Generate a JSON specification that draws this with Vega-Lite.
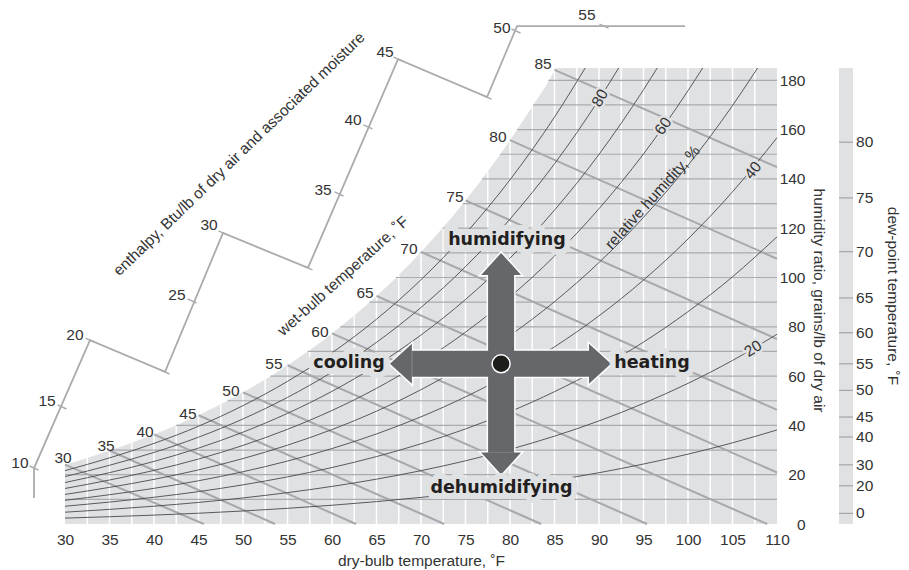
{
"$schema": "https://vega.github.io/schema/vega-lite/v6.json",
"width": 712, "height": 456,
"autosize": {"type": "none"},
"padding": {"left": 65, "top": 68, "right": 132, "bottom": 46},
"background": "white",
"config": {"view": {"stroke": null}, "axis": {"labelFont": "Liberation Sans", "titleFont": "Liberation Sans"}},
"datasets": {
"sat": [{"T":30,"W":24.07},{"T":32.5,"W":26.8},{"T":35,"W":29.82},{"T":37.5,"W":32.93},{"T":40,"W":36.37},{"T":42.5,"W":40.06},{"T":45,"W":44.12},{"T":47.5,"W":48.54},{"T":50,"W":53.42},{"T":52.5,"W":58.65},{"T":55,"W":64.41},{"T":57.5,"W":70.56},{"T":60,"W":77.32},{"T":62.5,"W":84.57},{"T":65,"W":92.52},{"T":67.5,"W":101.04},{"T":70,"W":110.37},{"T":72.5,"W":120.36},{"T":75,"W":131.29},{"T":77.5,"W":142.96},{"T":80,"W":155.72},{"T":82.5,"W":169.35},{"T":85,"W":184.22},{"T":85.1,"W":185},{"T":110,"W":185}],
"vgrid": [{"T":32.5,"W":26.8},{"T":35,"W":29.82},{"T":37.5,"W":32.93},{"T":40,"W":36.37},{"T":42.5,"W":40.06},{"T":45,"W":44.12},{"T":47.5,"W":48.54},{"T":50,"W":53.42},{"T":52.5,"W":58.65},{"T":55,"W":64.41},{"T":57.5,"W":70.56},{"T":60,"W":77.32},{"T":62.5,"W":84.57},{"T":65,"W":92.52},{"T":67.5,"W":101.04},{"T":70,"W":110.37},{"T":72.5,"W":120.36},{"T":75,"W":131.29},{"T":77.5,"W":142.96},{"T":80,"W":155.72},{"T":82.5,"W":169.35},{"T":85,"W":184.22},{"T":87.5,"W":185},{"T":90,"W":185},{"T":92.5,"W":185},{"T":95,"W":185},{"T":97.5,"W":185},{"T":100,"W":185},{"T":102.5,"W":185},{"T":105,"W":185},{"T":107.5,"W":185}],
"hgrid": [{"W":10,"T":30},{"W":20,"T":30},{"W":30,"T":35.14},{"W":40,"T":42.46},{"W":50,"T":48.25},{"W":60,"T":53.09},{"W":70,"T":57.27},{"W":80,"T":60.92},{"W":90,"T":64.21},{"W":100,"T":67.19},{"W":110,"T":69.9},{"W":120,"T":72.41},{"W":130,"T":74.7},{"W":140,"T":76.87},{"W":150,"T":78.88},{"W":160,"T":80.79},{"W":170,"T":82.61},{"W":180,"T":84.29}],
"wb": [{"wb":30,"T":30,"W":24.07},{"wb":30,"T":45.6,"W":0},{"wb":35,"T":35,"W":29.82},{"wb":35,"T":53.6,"W":0},{"wb":40,"T":40,"W":36.37},{"wb":40,"T":62.7,"W":0},{"wb":45,"T":45,"W":44.12},{"wb":45,"T":72.6,"W":0},{"wb":50,"T":50,"W":53.42},{"wb":50,"T":83.5,"W":0},{"wb":55,"T":55,"W":64.41},{"wb":55,"T":95.4,"W":0},{"wb":60,"T":60,"W":77.32},{"wb":60,"T":108.9,"W":0},{"wb":65,"T":65,"W":92.52},{"wb":65,"T":110,"W":20.9},{"wb":70,"T":70,"W":110.37},{"wb":70,"T":110,"W":46.3},{"wb":75,"T":75,"W":131.29},{"wb":75,"T":110,"W":75.0},{"wb":80,"T":80,"W":155.72},{"wb":80,"T":110,"W":107.6},{"wb":85,"T":85,"W":184.22},{"wb":85,"T":110,"W":144.8}],
"rh": [
{"rh":10,"T":30,"W":2.4},{"rh":10,"T":35,"W":2.96},{"rh":10,"T":40,"W":3.61},{"rh":10,"T":45,"W":4.37},{"rh":10,"T":50,"W":5.28},{"rh":10,"T":55,"W":6.36},{"rh":10,"T":60,"W":7.61},{"rh":10,"T":65,"W":9.08},{"rh":10,"T":70,"W":10.79},{"rh":10,"T":75,"W":12.78},{"rh":10,"T":80,"W":15.09},{"rh":10,"T":85,"W":17.75},{"rh":10,"T":90,"W":20.81},{"rh":10,"T":95,"W":24.33},{"rh":10,"T":100,"W":28.34},{"rh":10,"T":105,"W":32.93},{"rh":10,"T":110,"W":38.16},
{"rh":20,"T":30,"W":4.79},{"rh":20,"T":35,"W":5.93},{"rh":20,"T":40,"W":7.23},{"rh":20,"T":45,"W":8.75},{"rh":20,"T":50,"W":10.58},{"rh":20,"T":55,"W":12.73},{"rh":20,"T":60,"W":15.25},{"rh":20,"T":65,"W":18.19},{"rh":20,"T":70,"W":21.64},{"rh":20,"T":75,"W":25.64},{"rh":20,"T":80,"W":30.28},{"rh":20,"T":85,"W":35.64},{"rh":20,"T":90,"W":41.82},{"rh":20,"T":95,"W":48.92},{"rh":20,"T":100,"W":57.06},{"rh":20,"T":105,"W":66.35},{"rh":20,"T":110,"W":76.99},
{"rh":30,"T":30,"W":7.19},{"rh":30,"T":35,"W":8.9},{"rh":30,"T":40,"W":10.85},{"rh":30,"T":45,"W":13.14},{"rh":30,"T":50,"W":15.89},{"rh":30,"T":55,"W":19.12},{"rh":30,"T":60,"W":22.91},{"rh":30,"T":65,"W":27.35},{"rh":30,"T":70,"W":32.54},{"rh":30,"T":75,"W":38.57},{"rh":30,"T":80,"W":45.57},{"rh":30,"T":85,"W":53.68},{"rh":30,"T":90,"W":63.03},{"rh":30,"T":95,"W":73.8},{"rh":30,"T":100,"W":86.15},{"rh":30,"T":105,"W":100.29},{"rh":30,"T":110,"W":116.51},
{"rh":40,"T":30,"W":9.6},{"rh":40,"T":35,"W":11.88},{"rh":40,"T":40,"W":14.47},{"rh":40,"T":45,"W":17.54},{"rh":40,"T":50,"W":21.21},{"rh":40,"T":55,"W":25.54},{"rh":40,"T":60,"W":30.6},{"rh":40,"T":65,"W":36.54},{"rh":40,"T":70,"W":43.49},{"rh":40,"T":75,"W":51.58},{"rh":40,"T":80,"W":60.98},{"rh":40,"T":85,"W":71.87},{"rh":40,"T":90,"W":84.45},{"rh":40,"T":95,"W":98.96},{"rh":40,"T":100,"W":115.63},{"rh":40,"T":105,"W":134.76},{"rh":40,"T":110,"W":156.74},
{"rh":50,"T":30,"W":12.0},{"rh":50,"T":35,"W":14.86},{"rh":50,"T":40,"W":18.11},{"rh":50,"T":45,"W":21.95},{"rh":50,"T":50,"W":26.55},{"rh":50,"T":55,"W":31.97},{"rh":50,"T":60,"W":38.32},{"rh":50,"T":65,"W":45.77},{"rh":50,"T":70,"W":54.5},{"rh":50,"T":75,"W":64.67},{"rh":50,"T":80,"W":76.49},{"rh":50,"T":85,"W":90.2},{"rh":50,"T":90,"W":106.08},{"rh":50,"T":95,"W":124.4},{"rh":50,"T":100,"W":145.51},{"rh":50,"T":105,"W":169.76},{"rh":50,"T":107.82,"W":185},
{"rh":60,"T":30,"W":14.41},{"rh":60,"T":35,"W":17.84},{"rh":60,"T":40,"W":21.75},{"rh":60,"T":45,"W":26.36},{"rh":60,"T":50,"W":31.89},{"rh":60,"T":55,"W":38.42},{"rh":60,"T":60,"W":46.06},{"rh":60,"T":65,"W":55.04},{"rh":60,"T":70,"W":65.56},{"rh":60,"T":75,"W":77.83},{"rh":60,"T":80,"W":92.11},{"rh":60,"T":85,"W":108.7},{"rh":60,"T":90,"W":127.91},{"rh":60,"T":95,"W":150.14},{"rh":60,"T":100,"W":175.79},{"rh":60,"T":101.65,"W":185},
{"rh":70,"T":30,"W":16.82},{"rh":70,"T":35,"W":20.83},{"rh":70,"T":40,"W":25.39},{"rh":70,"T":45,"W":30.79},{"rh":70,"T":50,"W":37.26},{"rh":70,"T":55,"W":44.89},{"rh":70,"T":60,"W":53.83},{"rh":70,"T":65,"W":64.35},{"rh":70,"T":70,"W":76.68},{"rh":70,"T":75,"W":91.08},{"rh":70,"T":80,"W":107.85},{"rh":70,"T":85,"W":127.34},{"rh":70,"T":90,"W":149.96},{"rh":70,"T":95,"W":176.18},{"rh":70,"T":96.54,"W":185},
{"rh":80,"T":30,"W":19.24},{"rh":80,"T":35,"W":23.83},{"rh":80,"T":40,"W":29.04},{"rh":80,"T":45,"W":35.22},{"rh":80,"T":50,"W":42.63},{"rh":80,"T":55,"W":51.37},{"rh":80,"T":60,"W":61.63},{"rh":80,"T":65,"W":73.7},{"rh":80,"T":70,"W":87.85},{"rh":80,"T":75,"W":104.4},{"rh":80,"T":80,"W":123.69},{"rh":80,"T":85,"W":146.14},{"rh":80,"T":90,"W":172.24},{"rh":80,"T":92.21,"W":185},
{"rh":90,"T":30,"W":21.65},{"rh":90,"T":35,"W":26.82},{"rh":90,"T":40,"W":32.7},{"rh":90,"T":45,"W":39.67},{"rh":90,"T":50,"W":48.02},{"rh":90,"T":55,"W":57.88},{"rh":90,"T":60,"W":69.46},{"rh":90,"T":65,"W":83.09},{"rh":90,"T":70,"W":99.09},{"rh":90,"T":75,"W":117.8},{"rh":90,"T":80,"W":139.65},{"rh":90,"T":85,"W":165.1},{"rh":90,"T":88.45,"W":185}
],
"enth": [{"i":0,"T":26.52,"W":10.55},{"i":1,"T":26.52,"W":22.7},{"i":2,"T":32.81,"W":74.6},{"i":3,"T":41.24,"W":61.7},{"i":4,"T":47.75,"W":118.1},{"i":5,"T":57.3,"W":103.9},{"i":6,"T":67.42,"W":188.6},{"i":7,"T":77.42,"W":173.2},{"i":8,"T":80.79,"W":202.0},{"i":9,"T":99.66,"W":202.0}],
"enthTicks": [{"T":26.52,"W":22.7},{"T":29.66,"W":47.5},{"T":32.81,"W":74.6},{"T":41.24,"W":61.7},{"T":44.27,"W":90.5},{"T":47.75,"W":118.1},{"T":57.3,"W":103.9},{"T":60.79,"W":133.9},{"T":64.04,"W":161.1},{"T":67.42,"W":188.6},{"T":77.42,"W":173.2},{"T":80.67,"W":200.0},{"T":90.56,"W":202.0}],
"enthLabels": [{"label":"10","T":24.94,"W":24.7},{"label":"15","T":27.98,"W":49.9},{"label":"20","T":31.12,"W":76.7},{"label":"25","T":42.58,"W":92.9},{"label":"30","T":46.18,"W":121.3},{"label":"35","T":58.99,"W":135.5},{"label":"40","T":62.36,"W":163.9},{"label":"45","T":65.96,"W":191.5},{"label":"50","T":79.1,"W":201.2},{"label":"55","T":88.65,"W":206.5}],
"wbLabels": [{"label":"30","T":29.78,"W":26.8},{"label":"35","T":34.61,"W":31.6},{"label":"40","T":38.99,"W":37.3},{"label":"45","T":43.82,"W":44.6},{"label":"50","T":48.65,"W":54.0},{"label":"55","T":53.48,"W":64.9},{"label":"60","T":58.65,"W":77.9},{"label":"65","T":63.71,"W":93.7},{"label":"70","T":68.65,"W":111.6},{"label":"75","T":73.82,"W":132.7},{"label":"80","T":78.65,"W":157.0},{"label":"85","T":83.71,"W":186.6}],
"shafts": [{"T":69.0,"W":65,"T2":88.9,"W2":65},{"T":79,"W":28.9,"T2":79,"W2":101.1}],
"heads": [{"dir":"left","T":67.74,"W":65},{"dir":"right","T":90.11,"W":65},{"dir":"up","T":79,"W":105.5},{"dir":"down","T":79,"W":24.5}],
"dew": [{"dp":"80","W":154.9},{"dp":"75","W":132.3},{"dp":"70","W":110.5},{"dp":"65","W":91.7},{"dp":"60","W":77.6},{"dp":"55","W":65.0},{"dp":"50","W":54.2},{"dp":"45","W":43.4},{"dp":"40","W":35.3},{"dp":"30","W":24.0},{"dp":"20","W":15.5},{"dp":"0","W":4.3}]
},
"layer": [
{
"encoding": {
"x": {"field": "T", "type": "quantitative", "scale": {"domain": [30, 110], "nice": false, "zero": false},
  "axis": {"values": [30,35,40,45,50,55,60,65,70,75,80,85,90,95,100,105,110], "ticks": false, "domain": false, "grid": false, "labelFontSize": 15.5, "labelColor": "#333333", "labelPadding": 8, "labelFlush": false, "labelOverlap": false, "title": "dry-bulb temperature, ˚F", "titleFontSize": 15.5, "titleFontWeight": "normal", "titleColor": "#333333", "titleX": 356, "titleY": 41, "titleBaseline": "alphabetic", "titleAlign": "center"}},
"y": {"field": "W", "type": "quantitative", "scale": {"domain": [0, 185], "nice": false, "zero": false},
  "axis": {"orient": "right", "values": [0,20,40,60,80,100,120,140,160,180], "ticks": false, "domain": false, "grid": false, "labelFontSize": 15.5, "labelColor": "#333333", "labelPadding": 28, "labelAlign": "right", "labelBaseline": "middle", "labelFlush": false, "labelOverlap": false, "title": "humidity ratio, grains/lb of dry air", "titleFontSize": 15.5, "titleFontWeight": "normal", "titleColor": "#333333", "titleAngle": 90, "titleX": 41, "titleY": 232, "titleAlign": "center", "titleBaseline": "middle"}}
},
"layer": [
{"data": {"name": "sat"}, "mark": {"type": "area", "fill": "#e0e1e3", "interpolate": "monotone"}, "encoding": {"y2": {"datum": 0}}},
{"data": {"name": "vgrid"}, "mark": {"type": "rule", "stroke": "#ffffff", "strokeWidth": 1.5}, "encoding": {"y2": {"datum": 0}}},
{"data": {"name": "hgrid"}, "mark": {"type": "rule", "stroke": "#a9abae", "strokeWidth": 1.2}, "encoding": {"x2": {"datum": 110}}},
{"data": {"name": "wb"}, "mark": {"type": "line", "color": "#a6a8ab", "strokeWidth": 2}, "encoding": {"detail": {"field": "wb", "type": "nominal"}}},
{"data": {"name": "rh"}, "mark": {"type": "line", "color": "#4a4a4c", "strokeWidth": 0.9, "interpolate": "monotone"}, "encoding": {"detail": {"field": "rh", "type": "nominal"}}},
{"data": {"name": "enth"}, "mark": {"type": "line", "color": "#a9abae", "strokeWidth": 1.8}, "encoding": {"order": {"field": "i", "type": "quantitative"}}},
{"data": {"name": "enthTicks"}, "mark": {"type": "point", "shape": "M -1 -0.45 L 1 0.45", "size": 81, "filled": false, "color": "#a9abae", "strokeWidth": 1.5, "opacity": 1}},
{"data": {"name": "enthLabels"}, "mark": {"type": "text", "font": "Liberation Sans", "fontSize": 15.5, "fill": "#333333", "baseline": "middle"}, "encoding": {"text": {"field": "label"}}},
{"data": {"name": "wbLabels"}, "mark": {"type": "text", "font": "Liberation Sans", "fontSize": 15.5, "fill": "#333333", "baseline": "middle"}, "encoding": {"text": {"field": "label"}}},
{"data": {"values": [{"T": 90.1, "W": 172.8, "label": "80"}]}, "layer": [
  {"mark": {"type": "text", "angle": -60, "font": "Liberation Sans", "fontSize": 15.5, "fill": "#e0e1e3", "stroke": "#e0e1e3", "strokeWidth": 5, "baseline": "middle"}, "encoding": {"text": {"field": "label"}}},
  {"mark": {"type": "text", "angle": -60, "font": "Liberation Sans", "fontSize": 15.5, "fill": "#333333", "baseline": "middle"}, "encoding": {"text": {"field": "label"}}}]},
{"data": {"values": [{"T": 97.2, "W": 161.4, "label": "60"}]}, "layer": [
  {"mark": {"type": "text", "angle": -55, "font": "Liberation Sans", "fontSize": 15.5, "fill": "#e0e1e3", "stroke": "#e0e1e3", "strokeWidth": 5, "baseline": "middle"}, "encoding": {"text": {"field": "label"}}},
  {"mark": {"type": "text", "angle": -55, "font": "Liberation Sans", "fontSize": 15.5, "fill": "#333333", "baseline": "middle"}, "encoding": {"text": {"field": "label"}}}]},
{"data": {"values": [{"T": 107.3, "W": 143.5, "label": "40"}]}, "layer": [
  {"mark": {"type": "text", "angle": -51, "font": "Liberation Sans", "fontSize": 15.5, "fill": "#e0e1e3", "stroke": "#e0e1e3", "strokeWidth": 5, "baseline": "middle"}, "encoding": {"text": {"field": "label"}}},
  {"mark": {"type": "text", "angle": -51, "font": "Liberation Sans", "fontSize": 15.5, "fill": "#333333", "baseline": "middle"}, "encoding": {"text": {"field": "label"}}}]},
{"data": {"values": [{"T": 107.3, "W": 71.2, "label": "20"}]}, "layer": [
  {"mark": {"type": "text", "angle": -33, "font": "Liberation Sans", "fontSize": 15.5, "fill": "#e0e1e3", "stroke": "#e0e1e3", "strokeWidth": 5, "baseline": "middle"}, "encoding": {"text": {"field": "label"}}},
  {"mark": {"type": "text", "angle": -33, "font": "Liberation Sans", "fontSize": 15.5, "fill": "#333333", "baseline": "middle"}, "encoding": {"text": {"field": "label"}}}]},
{"data": {"values": [{"T": 96.01, "W": 132.5, "label": "relative humidity, %"}]}, "mark": {"type": "text", "angle": -48, "font": "Liberation Sans", "fontSize": 15.5, "fill": "#333333", "baseline": "middle"}, "encoding": {"text": {"field": "label"}}},
{"data": {"values": [{"T": 61.24, "W": 100.6, "label": "wet-bulb temperature, ˚F"}]}, "mark": {"type": "text", "angle": -42, "font": "Liberation Sans", "fontSize": 15.5, "fill": "#333333", "baseline": "middle"}, "encoding": {"text": {"field": "label"}}},
{"data": {"values": [{"T": 49.55, "W": 150.1, "label": "enthalpy, Btu/lb of dry air and associated moisture"}]}, "mark": {"type": "text", "angle": -44, "font": "Liberation Sans", "fontSize": 15.5, "fill": "#333333", "baseline": "middle"}, "encoding": {"text": {"field": "label"}}},
{"data": {"name": "shafts"}, "mark": {"type": "rule", "stroke": "#ffffff", "strokeWidth": 29}, "encoding": {"x2": {"field": "T2"}, "y2": {"field": "W2"}}},
{"data": {"name": "heads"}, "mark": {"type": "point", "filled": true, "fill": "#ffffff", "stroke": "#ffffff", "strokeWidth": 3, "size": 1600, "opacity": 1}, "encoding": {"shape": {"field": "dir", "type": "nominal", "scale": {"domain": ["left", "right", "up", "down"], "range": ["M -0.55 0 L 0.55 -1 L 0.55 1 Z", "M 0.55 0 L -0.55 -1 L -0.55 1 Z", "M 0 -0.55 L -1 0.55 L 1 0.55 Z", "M 0 0.55 L -1 -0.55 L 1 -0.55 Z"]}, "legend": null}}},
{"data": {"name": "shafts"}, "mark": {"type": "rule", "stroke": "#65676a", "strokeWidth": 26}, "encoding": {"x2": {"field": "T2"}, "y2": {"field": "W2"}}},
{"data": {"name": "heads"}, "mark": {"type": "point", "filled": true, "fill": "#65676a", "strokeWidth": 0, "size": 1600, "opacity": 1}, "encoding": {"shape": {"field": "dir", "type": "nominal", "scale": {"domain": ["left", "right", "up", "down"], "range": ["M -0.55 0 L 0.55 -1 L 0.55 1 Z", "M 0.55 0 L -0.55 -1 L -0.55 1 Z", "M 0 -0.55 L -1 0.55 L 1 0.55 Z", "M 0 0.55 L -1 -0.55 L 1 -0.55 Z"]}, "legend": null}}},
{"data": {"values": [{"T": 79, "W": 65}]}, "mark": {"type": "point", "shape": "circle", "filled": true, "fill": "#1d1d1b", "stroke": "#ffffff", "strokeWidth": 1.5, "size": 324, "opacity": 1}},
{"data": {"values": [{"T": 79.66, "W": 115.2, "label": "humidifying"}, {"T": 61.91, "W": 65.3, "label": "cooling"}, {"T": 95.96, "W": 65.3, "label": "heating"}, {"T": 79.04, "W": 14.6, "label": "dehumidifying"}]}, "layer": [
  {"mark": {"type": "text", "font": "DejaVu Sans", "fontWeight": "bold", "fontSize": 17.5, "fill": "#e0e1e3", "stroke": "#e0e1e3", "strokeWidth": 12, "strokeJoin": "round", "baseline": "middle"}, "encoding": {"text": {"field": "label"}}},
  {"mark": {"type": "text", "font": "DejaVu Sans", "fontWeight": "bold", "fontSize": 17.5, "fill": "#231f20", "baseline": "middle"}, "encoding": {"text": {"field": "label"}}}]}
]
},
{
"layer": [
{"data": {"values": [{"B": "dew"}]}, "mark": {"type": "rect", "fill": "#e0e1e3"}, "encoding": {"x": {"datum": 116.97, "type": "quantitative"}, "x2": {"datum": 118.54}, "y": {"datum": 0, "type": "quantitative"}, "y2": {"datum": 185}}},
{"data": {"name": "dew"}, "mark": {"type": "rule", "stroke": "#a3a5a8", "strokeWidth": 1.2}, "encoding": {"x": {"datum": 116.97, "type": "quantitative"}, "x2": {"datum": 118.54}, "y": {"field": "W", "type": "quantitative"}}},
{"data": {"name": "dew"}, "mark": {"type": "text", "font": "Liberation Sans", "fontSize": 15.5, "fill": "#333333", "align": "left", "baseline": "middle"}, "encoding": {"x": {"datum": 118.88, "type": "quantitative"}, "y": {"field": "W", "type": "quantitative"}, "text": {"field": "dp"}}},
{"data": {"values": [{"W": 92.5, "label": "dew-point temperature, ˚F"}]}, "mark": {"type": "text", "angle": 90, "font": "Liberation Sans", "fontSize": 15.5, "fill": "#333333", "baseline": "middle"}, "encoding": {"x": {"datum": 123.03, "type": "quantitative"}, "y": {"field": "W", "type": "quantitative"}, "text": {"field": "label"}}}
]
}
]
}
